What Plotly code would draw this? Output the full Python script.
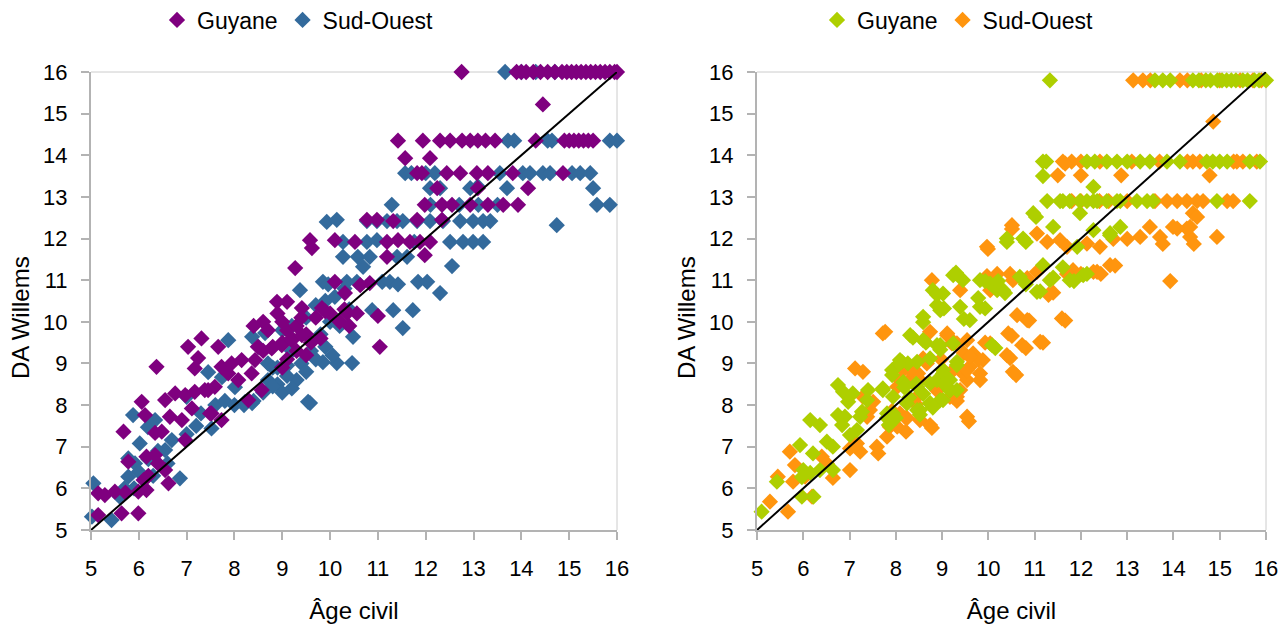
import plotly.graph_objects as go

# ---------------- data (x = Âge civil, y = DA Willems) ----------------
guyane_gauche = [
    (12.75,16),(13.9,16),(14.0,16),(14.1,16),(14.25,16),(14.4,16),(14.55,16),(14.7,16),(14.85,16),(14.95,16),
    (15.05,16),(15.15,16),(15.25,16),(15.35,16),(15.45,16),(15.55,16),(15.65,16),(15.75,16),(15.85,16),(15.95,16),(16.0,16),
    (14.45,15.22),
    (11.42,14.35),(11.94,14.35),(12.30,14.35),(12.51,14.35),(12.76,14.35),(12.93,14.35),(13.09,14.35),(13.25,14.35),
    (13.45,14.35),(14.3,14.35),(14.9,14.35),(15.0,14.35),(15.1,14.35),(15.2,14.35),(15.3,14.35),(15.4,14.35),(15.5,14.35),
    (11.57,13.93),(12.09,13.93),
    (11.82,13.57),(11.92,13.57),(12.44,13.57),(12.72,13.57),(13.07,13.57),(13.30,13.57),(13.82,13.57),(14.87,13.57),
    (12.24,13.21),(13.09,13.21),(14.14,13.21),
    (11.98,12.81),(12.34,12.81),(12.55,12.81),(12.93,12.81),(13.30,12.81),(13.62,12.81),(13.93,12.81),
    (10.77,12.45),(10.98,12.45),(11.32,12.42),(11.82,12.45),(12.34,12.45),
    (9.58,11.96),(10.10,11.96),(10.52,11.92),(11.19,11.92),(11.42,11.96),(11.67,11.92),(11.88,11.92),(12.09,11.92),
    (9.62,11.77),(11.98,11.6),(11.19,11.56),(9.27,11.29),
    (10.10,10.96),(10.31,10.69),(10.63,10.88),(10.83,10.93),
    (8.89,10.48),(9.10,10.48),(9.41,10.33),(9.83,10.33),(10.0,10.2),(10.35,10.2),(10.56,10.2),(11.0,10.14),
    (11.04,9.40),
    (8.4,9.9),(8.6,10.0),(8.7,9.8),(8.9,10.2),(9.0,10.0),(9.1,9.8),(9.2,9.6),(9.3,9.9),(9.4,10.1),(9.5,9.7),
    (9.6,9.5),(9.0,9.5),(8.8,9.4),(9.7,10.1),(9.9,10.25),(10.2,10.0),(9.3,9.3),(9.5,9.2),(8.6,9.3),(9.1,9.1),
    (9.8,9.6),(10.3,10.3),(10.4,9.9),
    (8.99,9.44),(9.20,9.56),(9.41,9.68),(8.49,9.40),(8.78,9.36),(8.43,9.08),(9.0,8.9),
    (7.73,8.92),(7.94,9.0),(8.15,9.08),(7.87,8.76),(8.08,8.60),(8.36,8.76),(8.57,8.36),(8.29,8.12),(7.59,8.44),
    (7.45,8.36),(7.52,7.80),
    (7.31,9.60),(7.03,9.40),(7.66,9.40),(6.37,8.92),(7.24,9.13),(7.17,8.88),(6.76,8.28),(6.55,8.12),(6.06,8.08),
    (6.13,7.76),(5.68,7.36),(6.34,7.33),(6.48,7.36),(6.90,7.64),(6.65,7.72),(6.97,8.24),(7.17,8.32),(7.38,8.36),
    (7.11,7.92),(7.49,7.80),(7.73,7.64),(6.97,7.16),(6.16,6.76),(6.34,6.80),(5.78,6.64),(6.55,6.44),(6.62,6.12),
    (5.99,5.92),(6.16,5.96),(5.15,5.88),(5.29,5.84),(5.50,5.92),(5.64,5.40),(5.99,5.40),(5.15,5.36),(5.72,5.9),
    (6.2,6.3),(6.4,6.6),(6.1,6.2),
]

sud_ouest_gauche = [
    (13.66,16),(14.0,16),(14.3,16),(14.7,16),
    (13.72,14.35),(13.85,14.35),(14.55,14.35),(14.64,14.35),(15.85,14.35),(16.0,14.35),
    (11.57,13.57),(11.7,13.57),(12.0,13.57),(12.19,13.57),(13.55,13.57),(14.03,13.57),(14.18,13.57),(14.45,13.57),
    (14.60,13.57),(15.06,13.57),(15.23,13.57),(15.44,13.57),
    (12.09,13.21),(12.3,13.21),(12.93,13.21),(13.09,13.25),(13.70,13.21),(15.50,13.21),
    (15.58,12.81),(15.85,12.81),(14.74,12.32),
    (11.29,12.81),(12.1,12.81),(12.7,12.81),(13.1,12.81),(13.5,12.81),
    (9.93,12.40),(10.14,12.45),(10.77,12.42),(10.98,12.42),(11.19,12.42),(11.40,12.42),(11.52,12.42),(11.82,12.42),
    (12.09,12.42),(12.36,12.42),(12.72,12.42),(12.99,12.42),(13.20,12.42),(13.35,12.42),
    (10.27,11.92),(10.77,11.92),(10.98,11.96),(11.76,11.92),(12.51,11.92),(12.78,11.92),(12.99,11.92),(13.20,11.92),
    (10.27,11.56),(10.58,11.56),(10.83,11.56),(11.40,11.56),(11.61,11.56),(10.69,11.32),(12.55,11.34),
    (9.37,10.76),(9.85,10.96),(9.96,10.9),(10.35,10.96),(10.56,10.96),(11.09,10.96),(11.25,10.96),(11.42,10.9),
    (11.84,10.96),(12.03,10.96),(12.30,10.69),
    (10.88,10.28),(11.32,10.28),(11.73,10.28),(11.52,9.85),(10.48,9.64),
    (9.85,9.03),(10.14,9.01),(10.46,9.01),(9.58,8.05),
    (9.0,9.8),(9.2,9.3),(9.4,9.0),(9.6,9.3),(9.8,9.7),(10.0,10.0),(10.2,9.9),(10.4,10.3),(9.5,8.8),(9.3,8.6),
    (9.1,8.7),(8.9,8.5),(8.7,9.0),(8.5,9.4),(9.7,10.4),(9.9,10.5),(10.1,10.6),(10.3,10.8),(9.5,10.1),(9.2,9.9),
    (8.8,8.9),(9.0,8.3),(9.2,8.4),(8.6,8.3),(8.4,8.1),(8.2,8.0),(8.0,8.0),(9.7,9.1),(9.9,9.4),(10.05,9.2),
    (5.05,6.12),(5.02,5.32),(5.43,5.24),(5.88,7.76),(6.02,7.08),(5.78,6.72),(5.92,6.60),(5.78,6.28),(6.86,6.24),
    (6.55,6.92),(6.69,7.16),(6.19,7.47),(6.34,7.64),(7.52,7.44),(7.45,8.79),(7.74,8.67),(7.87,9.56),(8.37,9.64),
    (8.64,9.73),(8.01,8.43),(8.22,8.07),(8.37,8.05),(9.54,8.08),(8.7,8.6),(8.9,8.9),(9.1,8.95),(8.8,8.45),
    (5.9,6.0),(6.0,6.4),(6.2,6.7),(6.4,6.9),(6.6,6.6),(7.0,7.3),(7.2,7.5),(6.3,6.3),(5.6,5.8),(5.7,6.0),
    (7.0,8.2),(7.3,7.8),(7.6,8.0),(7.8,8.1),
]

guyane_droite = [
    (11.33,15.8),(13.60,15.8),(13.77,15.8),(13.93,15.8),(14.42,15.8),(14.55,15.8),(14.7,15.8),(14.8,15.8),(14.95,15.8),
    (15.05,15.8),(15.15,15.8),(15.25,15.8),(15.35,15.8),(15.5,15.8),(15.6,15.8),(15.75,15.8),(15.85,15.8),(16.0,15.8),
    (11.18,13.85),(11.25,13.85),(12.13,13.85),(12.3,13.85),(12.56,13.85),(12.78,13.85),(13.0,13.85),(13.28,13.85),
    (13.49,13.85),(13.86,13.85),(14.14,13.85),(14.72,13.85),(14.85,13.85),(15.0,13.85),(15.16,13.85),(15.65,13.85),(15.87,13.85),
    (11.18,13.50),(12.27,13.24),
    (11.27,12.9),(11.55,12.9),(11.61,12.9),(11.76,12.9),(11.98,12.9),(12.13,12.9),(12.27,12.9),(12.35,12.9),(12.56,12.9),
    (12.78,12.9),(12.85,12.9),(13.21,12.9),(13.43,12.9),(13.56,12.9),(14.94,12.9),(15.65,12.9),
    (11.98,12.61),(12.85,12.28),(12.63,12.13),(11.92,11.80),(11.03,12.52),(10.40,11.92),(10.81,11.92),(10.97,12.61),
    (10.40,12.0),(10.75,12.0),(11.40,12.28),(12.27,12.2),(12.63,12.08),
    (11.18,11.36),(11.33,11.0),(11.05,10.72),(11.76,11.0),(12.05,11.12),
    (9.24,11.12),(9.45,11.0),(9.82,11.0),(10.04,10.92),(10.19,10.76),(10.32,10.76),(10.68,11.08),
    (8.80,10.76),(9.02,10.68),(8.89,10.40),(8.96,10.28),(9.39,10.36),(9.82,10.36),(9.60,10.04),
    (10.08,9.44),(8.31,9.68),(8.59,9.56),(8.89,9.44),(8.59,10.12),
    (8.09,9.08),(8.46,9.04),(8.74,9.12),(9.02,8.84),(9.32,9.04),(8.89,8.60),(9.11,8.44),(9.32,8.36),(7.92,8.84),(7.72,8.40),
    (7.94,8.20),(8.24,8.04),(8.46,7.88),(8.74,8.04),(8.96,8.12),(7.81,7.80),(7.94,7.64),
    (5.10,5.44),(5.43,6.16),(5.97,5.80),(6.22,5.80),(6.0,6.44),(6.15,6.37),(5.97,6.27),(6.36,6.44),(6.64,6.44),
    (5.93,7.04),(6.21,6.84),(6.51,7.12),(6.64,7.0),(6.15,7.64),(6.36,7.52),(6.75,7.76),(6.90,7.72),(6.84,7.52),
    (7.01,7.28),(7.16,7.40),(7.23,7.72),(6.75,8.48),(6.86,8.32),(6.97,8.08),(7.07,8.28),(7.27,7.84),(7.38,8.12),
    (7.40,8.36),(7.72,8.36),(7.81,7.69),(7.94,7.80),(7.94,8.84),(8.13,9.04),(8.26,9.00),(8.16,8.55),(8.96,9.44),
    (9.24,9.48),(8.74,8.05),(9.02,8.12),(8.52,7.88),(8.46,8.44),(8.74,8.52),(9.17,8.6),(9.02,8.76),
    (12.13,11.15),(11.85,10.98),(11.12,10.73),(11.61,11.31),(11.40,11.06),(10.81,10.90),(10.36,10.69),(10.21,10.98),
    (9.93,10.98),(9.30,11.18),(8.89,10.65),(9.04,10.32),(9.47,10.07),(9.78,10.57),(9.93,10.32),(8.59,9.99),(8.37,9.62),
    (8.65,9.50),(8.96,9.33),(10.15,9.37),(9.32,8.96),(8.07,9.0),(7.92,8.72),(8.18,8.43),(8.44,8.51),(8.59,8.27),
    (8.29,8.18),(9.04,8.51),(9.17,8.35),(8.80,7.94),(8.52,7.77),(8.00,7.69),(7.85,7.52),
]

sud_ouest_droite = [
    (13.13,15.8),(13.34,15.8),(13.5,15.8),(14.14,15.8),(14.3,15.8),(14.6,15.8),(15.0,15.8),(15.44,15.8),(15.72,15.8),(15.9,15.8),
    (14.86,14.81),
    (11.61,13.85),(11.8,13.85),(12.0,13.85),(12.41,13.85),(13.1,13.85),(13.7,13.85),(14.3,13.85),(14.42,13.85),
    (14.57,13.85),(15.3,13.85),(15.37,13.85),(15.50,13.85),(15.8,13.85),(16.02,13.85),
    (11.5,13.52),(12.0,13.52),(12.87,13.52),(14.78,13.52),(11.66,13.80),
    (11.8,12.9),(12.0,12.9),(12.4,12.9),(12.6,12.9),(13.0,12.9),(13.6,12.9),(13.86,12.9),(14.08,12.9),(14.29,12.9),
    (14.51,12.9),(14.64,12.9),(15.16,12.9),(15.29,12.9),
    (14.42,12.61),(13.99,12.28),(14.36,12.28),(13.49,12.28),(13.28,12.04),(13.71,12.04),(14.36,12.04),(14.94,12.04),
    (14.51,12.52),(14.29,12.24),(14.44,11.87),(13.77,11.87),(14.08,12.24),
    (9.97,11.80),(10.51,12.32),(11.05,12.12),(11.27,11.92),(11.55,11.96),(11.70,11.80),(12.13,11.88),(12.41,11.80),
    (12.70,11.99),(13.0,11.99),(10.51,12.23),(9.99,11.75),
    (12.63,11.36),(12.35,11.20),(11.83,11.24),(11.4,10.7),(11.3,10.65),
    (9.97,11.1),(10.19,11.15),(10.47,11.15),(10.53,11.0),(10.84,11.05),(11.05,11.2),(11.70,11.15),(12.27,11.2),
    (8.78,11.0),(9.39,10.76),(10.04,10.76),
    (10.62,10.16),(10.84,10.04),(11.59,10.08),
    (10.43,9.72),(10.73,9.44),(11.12,9.52),(10.40,9.20),(10.53,8.80),(10.04,9.48),
    (7.77,9.76),(8.74,9.76),(9.11,9.68),(9.21,9.48),(9.54,9.56),(9.67,9.24),(9.88,9.08),(9.60,8.92),(9.45,8.76),(9.82,8.76),
    (8.16,8.84),(8.37,8.68),(8.52,8.60),(8.03,8.44),(8.46,8.20),(9.24,8.20),(9.54,8.6),(9.82,8.6),
    (9.54,7.72),(8.74,7.52),(8.09,7.80),(7.87,7.48),(8.52,7.64),
    (13.93,10.98),(11.66,10.03),(11.18,9.50),(10.81,9.37),(10.60,8.72),(10.47,9.13),(10.51,9.66),(10.88,10.03),
    (9.58,7.61),(8.78,7.45),(12.74,11.35),(12.43,11.15),(12.0,11.15),
    (9.78,9.09),(9.93,9.50),(9.47,9.25),(9.26,9.50),(9.17,8.76),(9.32,8.10),(8.89,8.35),(8.44,8.02),(8.22,7.69),
    (7.92,7.86),(8.22,7.36),
    (5.28,5.68),(5.67,5.44),(5.45,6.28),(5.71,6.88),(5.82,6.56),(6.04,6.28),(5.78,6.16),(6.40,6.76),(6.64,6.25),
    (6.51,6.60),(6.19,5.80),(7.01,6.44),(7.01,6.96),(7.23,6.88),(7.16,7.08),(7.59,7.0),(7.62,6.84),(7.81,7.24),
    (7.12,8.88),(7.29,8.80),(7.29,8.20),(7.51,8.08),(7.44,7.88),(7.38,7.72),(8.03,7.48),(7.94,7.76),(8.24,7.69),
    (8.09,8.6),(8.24,8.52),(8.48,8.76),(8.67,9.0),(8.31,8.84),(8.59,9.12),(9.32,8.20),(7.72,9.72),(9.11,9.72),
    (9.32,9.48),(9.60,9.16),(9.54,8.84),(8.98,9.1),(9.02,8.84),(9.17,8.2),(9.39,8.36),
]

diagonale = [5, 16]
ticks = list(range(5, 17))
colors_left = {"Guyane": "#7f007f", "Sud-Ouest": "#336a9c"}
colors_right = {"Guyane": "#aecf00", "Sud-Ouest": "#ff950e"}
y_title = "DA Willems"
x_title = "Âge civil"

FONT = "Liberation Sans, Arial, sans-serif"
FS = 22
FS_LEG = 23
FS_TITLE = 24
AXIS_GRAY = "#b3b3b3"

def xs(pts):
    return [p[0] for p in pts]

def ys(pts):
    return [p[1] for p in pts]

fig = go.Figure()

def add_panel(pts_guy, pts_sud, colors, xa, ya, legend):
    # Sud-Ouest drawn first (under), Guyane on top; legend lists Guyane first
    for name, pts, rank in (("Sud-Ouest", pts_sud, 2), ("Guyane", pts_guy, 1)):
        fig.add_trace(go.Scatter(
            x=xs(pts), y=ys(pts), mode="markers", name=name,
            marker=dict(symbol="diamond", size=12.5, color=colors[name], line=dict(width=0)),
            xaxis=xa, yaxis=ya, legend=legend, legendrank=rank, cliponaxis=False,
        ))
    fig.add_trace(go.Scatter(
        x=diagonale, y=diagonale, mode="lines", line=dict(color="black", width=2),
        xaxis=xa, yaxis=ya, showlegend=False, hoverinfo="skip", cliponaxis=False,
    ))

add_panel(guyane_gauche, sud_ouest_gauche, colors_left, "x", "y", "legend")
add_panel(guyane_droite, sud_ouest_droite, colors_right, "x2", "y2", "legend2")

# page body margin is removed by a post script, so figure pixels == window pixels
W, H = 1282, 628
ydom = [(H - 530) / H, (H - 72) / H]
xdom1 = [91 / W, 617 / W]
xdom2 = [757 / W, 1266 / W]

axis_common = dict(
    range=[5, 16], tickmode="array", tickvals=ticks, ticktext=[str(t) for t in ticks],
    showgrid=False, zeroline=False, showline=True, linecolor=AXIS_GRAY, linewidth=2,
    ticks="outside", ticklen=8, tickwidth=2, tickcolor=AXIS_GRAY, automargin=False,
    tickfont=dict(family=FONT, size=FS, color="black"),
    title_font=dict(family=FONT, size=FS_TITLE, color="black"),
)
xaxis_extra = dict(ticklabelstandoff=10, title=dict(text=x_title, standoff=22))
yaxis_extra = dict(ticklabelstandoff=9)

legend_common = dict(orientation="h", xanchor="center", yanchor="middle", xref="container", yref="container",
                     y=1 - 20 / H, font=dict(family=FONT, size=FS_LEG, color="black"),
                     itemwidth=30, bgcolor="rgba(0,0,0,0)")

fig.update_layout(
    width=W, height=H,
    margin=dict(l=0, r=0, t=0, b=0, autoexpand=False),
    paper_bgcolor="white", plot_bgcolor="white",
    font=dict(family=FONT, size=FS, color="black"),
    xaxis=dict(domain=xdom1, anchor="y", **axis_common, **xaxis_extra),
    yaxis=dict(domain=ydom, anchor="x", **axis_common, **yaxis_extra),
    xaxis2=dict(domain=xdom2, anchor="y2", **axis_common, **xaxis_extra),
    yaxis2=dict(domain=ydom, anchor="x2", **axis_common, **yaxis_extra),
    legend=dict(x=298 / W, **legend_common),
    legend2=dict(x=958 / W, **legend_common),
    showlegend=True,
)

# vertical axis titles as annotations
for xpos in (20, 686):
    fig.add_annotation(text=y_title, textangle=-90, showarrow=False,
                       xref="paper", yref="paper", x=xpos / W, y=1 - 318 / H,
                       xanchor="center", yanchor="middle",
                       font=dict(family=FONT, size=FS_TITLE, color="black"))

# thin border on top/right of each plot area
for xr, yr in (("x domain", "y domain"), ("x2 domain", "y2 domain")):
    fig.add_shape(type="line", xref=xr, yref=yr, x0=0, x1=1, y0=1, y1=1,
                  line=dict(color="#cccccc", width=1), layer="below")
    fig.add_shape(type="line", xref=xr, yref=yr, x0=1, x1=1, y0=0, y1=1,
                  line=dict(color="#cccccc", width=1), layer="below")

fig.write_html(
    "out.html",
    config={"displayModeBar": False},
    post_script="document.body.style.margin='0';document.body.style.overflow='hidden';",
)
